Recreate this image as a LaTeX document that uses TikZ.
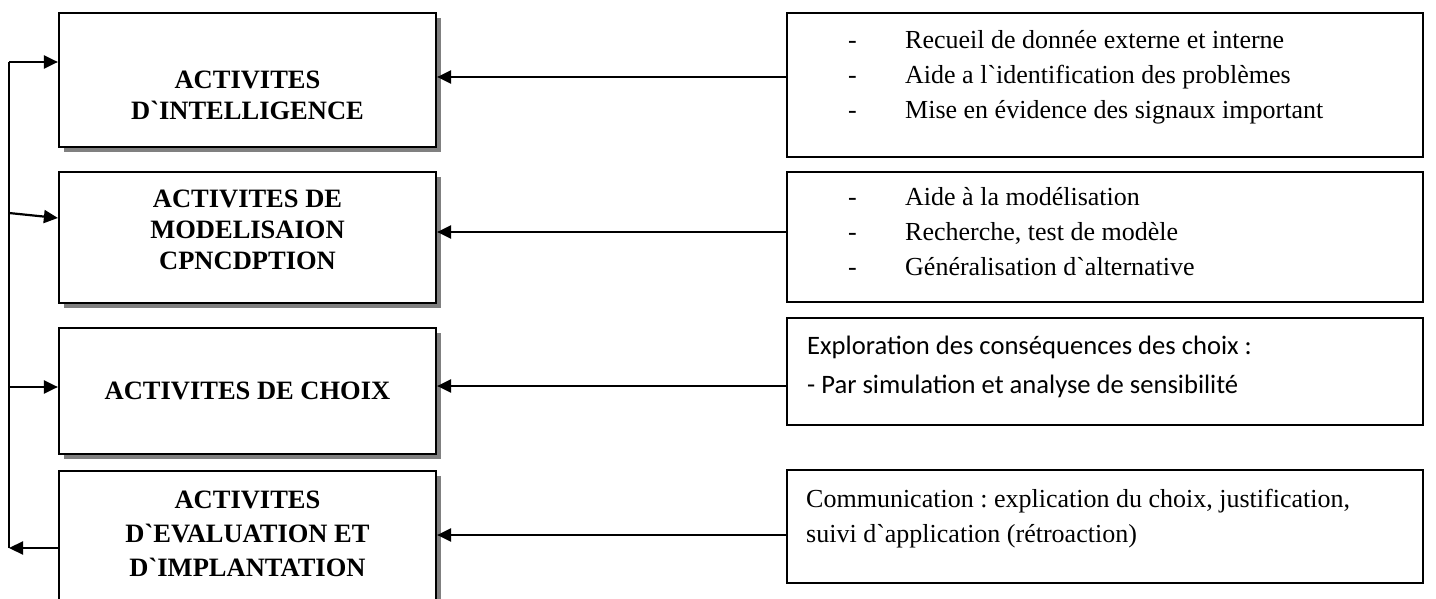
\documentclass[tikz,border=0pt]{standalone}
\usepackage{fontspec}
\setmainfont{Liberation Serif}
\newfontfamily\calibri{Carlito}
\usetikzlibrary{arrows.meta,shadows}
\frenchspacing

\begin{document}
\begin{tikzpicture}[x=1pt,y=-1pt,
  lbox/.style={draw,line width=2.2pt,fill=white,minimum width=377pt,
    drop shadow={shadow xshift=5pt,shadow yshift=-5pt,opacity=1,fill=black!50}},
  rbox/.style={draw,line width=2.2pt,fill=white,minimum width=636pt},
  ltext/.style={align=center,font=\bfseries\fontsize{26.5}{31}\selectfont,inner sep=0pt},
  rtext/.style={align=left,font=\fontsize{26}{35}\selectfont,inner sep=0pt,anchor=west},
  ctext/.style={align=left,font=\calibri\fontsize{26.6}{39}\selectfont,inner sep=0pt,anchor=west},
  arr/.style={line width=2.2pt,-{Triangle[length=14pt,width=13pt]}},
  ln/.style={line width=2.2pt}]
\useasboundingbox (0,0) rectangle (1436,599);

% activity boxes on the left
\node[lbox,minimum height=134pt] (b1) at (247.5,80) {};
\node[lbox,minimum height=131pt] (b2) at (247.5,237.5) {};
\node[lbox,minimum height=126pt] (b3) at (247.5,391) {};
\node[lbox,minimum height=150pt] (b4) at (247.5,546) {};

\node[ltext] (t1) at (247.5,95) {ACTIVITES\\D\textasciigrave INTELLIGENCE};
\node[ltext] (t2) at (247.5,230) {ACTIVITES DE\\MODELISAION\\CPNCDPTION};
\node[ltext] (t3) at (247.5,391) {ACTIVITES DE CHOIX};
\node[ltext,font=\bfseries\fontsize{26.5}{34}\selectfont] (t4) at (247.5,534)
  {ACTIVITES\\D\textasciigrave EVALUATION ET\\D\textasciigrave IMPLANTATION};

% support boxes on the right
\node[rbox,minimum height=144pt] (r1) at (1105,85) {};
\node[rbox,minimum height=130pt] (r2) at (1105,237) {};
\node[rbox,minimum height=107pt] (r3) at (1105,371.5) {};
\node[rbox,minimum height=113pt] (r4) at (1105,526.5) {};

\node[rtext] (s1) at (848,77) {\makebox[57pt][l]{-}Recueil de donnée externe et interne\\
  \makebox[57pt][l]{-}Aide a l\textasciigrave identification des problèmes\\
  \makebox[57pt][l]{-}Mise en évidence des signaux important};
\node[rtext] (s2) at (848,232) {\makebox[57pt][l]{-}Aide à la modélisation\\
  \makebox[57pt][l]{-}Recherche, test de modèle\\
  \makebox[57pt][l]{-}Généralisation d\textasciigrave alternative};
\node[ctext] (s3) at (807,367) {Exploration des conséquences des choix :\\
  - Par simulation et analyse de sensibilité};
\node[rtext] (s4) at (806,519) {Communication : explication du choix, justification,\\
  suivi d\textasciigrave application (rétroaction)};

% connector levels
\coordinate (y1) at (0,77);
\coordinate (y2) at (0,232);
\coordinate (y3) at (0,386);
\coordinate (y4) at (0,535);
\coordinate (top) at (9,62);
\coordinate (bot) at (9,548);
\coordinate (m2) at (9,213);
\coordinate (m3) at (9,387);
\coordinate (e2) at (0,218);

% right-to-left arrows
\draw[arr] (r1.west |- y1) -- (b1.east |- y1);
\draw[arr] (r2.west |- y2) -- (b2.east |- y2);
\draw[arr] (r3.west |- y3) -- (b3.east |- y3);
\draw[arr] (r4.west |- y4) -- (b4.east |- y4);

% feedback loop on the left
\draw[arr] (b4.west |- bot) -- (bot);
\draw[ln] (bot) -- (top);
\draw[arr] (top) -- (b1.west |- top);
\draw[arr] (m2) -- (b2.west |- e2);
\draw[arr] (m3) -- (b3.west |- m3);
\end{tikzpicture}
\end{document}
